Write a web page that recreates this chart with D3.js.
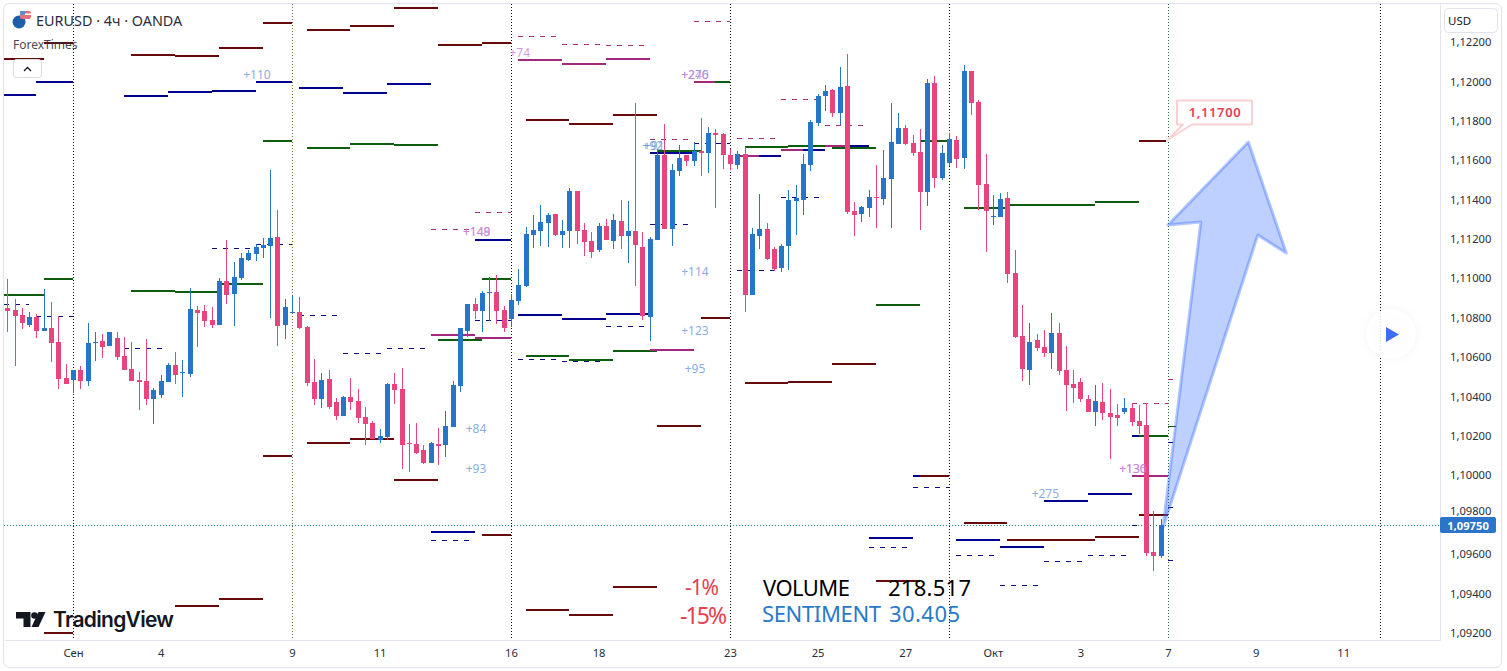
<!DOCTYPE html>
<html>
<head>
  <meta charset="utf-8">
  <title>EURUSD 4h</title>
  <script src="https://d3js.org/d3.v7.min.js"></script>
  <style>
    body { margin: 0; background: #fff; }
    svg { display: block; font-family: "Noto Sans", sans-serif; }
  </style>
</head>
<body>
  <div id="chart"></div>
  <script>
    // prices are kept in points: 1.10844 -> 110844
    const opens = [
      110844,110834,110809,110758,110799,110728,110743,110672,110490,110480,
      110530,110475,110667,110677,110652,110692,110602,110536,110480,110475,
      110383,110403,110470,110556,110515,110510,110834,110829,110783,110758,
      110982,110916,110997,111088,111119,111149,111159,111205,110758,110819,
      110824,110748,110470,110383,110485,110368,110297,110393,110373,110291,
      110261,110175,110190,110459,110434,110159,110154,110124,110058,110154,
      110149,110241,110449,110728,110865,110829,110921,110926,110834,110789,
      110880,110956,111215,111236,111276,111322,111215,111236,111439,111241,
      111185,111139,111261,111185,111286,111210,111236,111154,110799,111190,
      111622,111246,111540,111622,111591,111642,111632,111733,111728,111622,
      111571,111627,110911,111210,111246,111144,111048,111159,111388,111393,
      111571,111783,111921,111951,111834,111971,111337,111322,111352,111408,
      111398,111499,111677,111758,111682,111637,111434,111987,111505,111581,
      111697,111606,112048,111890,111474,111307,111307,111403,111022,110702,
      110530,110682,110647,110617,110718,110530,110459,110470,110383,110317,
      110368,110312,110302,110317,110337,110271,110251,109606,109586
    ];
    const highs = [
      110992,110890,110844,110824,110814,110941,110875,110804,110561,110530,
      110551,110768,110723,110713,110723,110723,110697,110672,110520,110687,
      110439,110505,110566,110622,110581,110946,110855,110860,110849,110997,
      111190,111078,111124,111139,111169,111200,111545,111342,110890,110911,
      110900,110753,110586,110515,110530,110388,110398,110490,110434,110342,
      110271,110230,110464,110515,110541,110256,110261,110149,110164,110235,
      110322,110475,110743,110865,110895,110931,111002,111012,110855,110916,
      111043,111256,111317,111368,111327,111322,111291,111454,111439,111276,
      111231,111276,111296,111322,111393,111388,111885,111231,111205,111652,
      111778,111576,111672,111622,111687,111809,111763,111753,111733,111652,
      111642,111662,111251,111423,111276,111154,111169,111444,111469,111627,
      111799,111931,111977,111956,112068,112134,111383,111363,111444,111571,
      111647,111885,111834,111773,111723,111753,112007,112022,111672,111733,
      111718,112078,112048,111900,111627,111418,111428,111434,111139,110860,
      110768,110713,110733,110819,110768,110652,110530,110490,110403,110454,
      110464,110434,110358,110388,110363,110353,110363,109814,109774
    ];
    const lows = [
      110723,110551,110738,110748,110692,110728,110571,110434,110459,110413,
      110434,110449,110576,110591,110652,110581,110530,110475,110327,110353,
      110256,110388,110470,110459,110393,110495,110647,110748,110743,110758,
      110865,110753,110987,111083,111083,111098,110794,110652,110687,110819,
      110738,110449,110353,110337,110332,110276,110297,110327,110261,110149,
      110180,110159,110175,110358,110028,110012,110104,110053,110058,110048,
      110088,110241,110418,110697,110789,110723,110778,110763,110723,110748,
      110860,110951,111149,111159,111154,111210,111149,111149,111169,111109,
      111098,111129,111190,111144,111144,111073,110956,110783,110677,111190,
      111246,111159,111515,111566,111566,111515,111530,111352,111550,111545,
      111550,110824,110911,111144,111088,111032,111027,111037,111215,111317,
      111540,111768,111845,111814,111773,111322,111210,111281,111307,111251,
      111368,111251,111677,111672,111616,111241,111363,111454,111494,111566,
      111555,111550,111824,111342,111129,111266,111307,110972,110692,110475,
      110454,110627,110596,110536,110505,110322,110363,110368,110317,110246,
      110276,110078,110246,110307,110246,110205,109586,109510,109576
    ];
    const closes = [
      110829,110804,110768,110799,110728,110743,110667,110485,110459,110530,
      110475,110667,110672,110647,110723,110596,110530,110475,110470,110383,
      110429,110475,110556,110505,110520,110839,110819,110778,110758,110982,
      110911,111002,111098,111124,111154,111164,111200,110753,110849,110824,
      110743,110464,110383,110480,110342,110297,110393,110368,110286,110256,
      110180,110195,110459,110429,110149,110154,110109,110058,110159,110144,
      110246,110454,110743,110865,110829,110921,110926,110829,110743,110885,
      110961,111220,111241,111281,111317,111215,111236,111439,111236,111180,
      111129,111261,111190,111291,111210,111236,111164,110804,111195,111622,
      111246,111545,111606,111591,111642,111632,111733,111723,111622,111576,
      111627,110911,111220,111246,111093,111043,111159,111393,111403,111576,
      111789,111921,111946,111834,111966,111332,111317,111357,111408,111403,
      111505,111687,111758,111677,111632,111434,111987,111505,111632,111702,
      111601,112048,111885,111469,111337,111312,111398,111017,110697,110536,
      110672,110642,110617,110718,110525,110454,110439,110383,110317,110373,
      110312,110291,110286,110337,110266,110246,109601,109586,109743
    ];

    // horizontal levels: [from bar, to bar, price]
    const redLevels = [
      [-0.5,5,112109],[5,9,112192],[17,23,112129],[23,29,112124],[29,35,112164],[35,39,112291],
      [41,47,112256],[47,53,112276],[53,59,112367],[59,65,112180],[65,69,112190],[71,77,111799],
      [77,83,111778],[83,89,111824],[5,9,109195],[23,29,109332],[29,35,109367],[35,39,110093],
      [41,47,110159],[47,53,110180],[53,59,109972],[65,69,109692],[71,77,109312],[77,83,109286],
      [83,89,109428],[89,95,110246],[95,99,110794],[101,107,110464],[107,113,110470],[113,119,110561],
      [119,125,109459],[125,129,109992],[131,137,109753],[137,149,109667],[149,155,109682],
      [155,159,109794],[155,158.7,111692]
    ];
    const navyLevels = [
      [-0.5,4,111926],[4,9,111992],[16,22,111921],[22,28,111941],[28,34,111946],[34,39,111992],
      [40,46,111961],[46,52,111936],[52,58,111982],[64,69,111190],[70,76,110809],[76,82,110789],
      [82,88,110814],[88,94,111632],[58,64,109708],[103,106,111616],[109,112,111647],[115,118,111667],
      [118,124,109677],[124,125,109992],[130,136,109667],[136,142,109631],[142,148,109865],
      [148,154,109901],[154,155,110195]
    ];
    const greenLevels = [
      [-0.5,5,110911],[5,9,110992],[17,23,110931],[23,29,110926],[29,35,110966],[35,39,111692],
      [41,47,111657],[47,53,111677],[53,59,111672],[59,65,110682],[65,69,110992],[71,77,110602],
      [77,83,110581],[83,89,110627],[89,95,111642],[95,99,111992],[101,107,111662],[107,113,111667],
      [113,119,111657],[119,125,110860],[125,129,111692],[131,137,111352],[137,149,111368],
      [149,155,111383],[155,159,110195]
    ];
    const magentaLevels = [
      [58,64,110708],[64,69,110692],[70,76,112103],[76,82,112083],[82,88,112109],[88,94,110632],
      [94,97,111992],[100,103,111616],[106,109,111647],[112,115,111667],[154,159,109992]
    ];
    const navyDashed = [
      [-0.5,3,110865],[4,9,110804],[28,33.5,111149],[34,39,111167],[40,45.5,110811],[46,51.5,110617],
      [16,21.5,110642],[52,57.5,110642],[58,63.5,109667],[64,69,110783],[70,75.5,110586],[76,81.5,110576],
      [82,87.5,110751],[88,93.5,111271],[94,99,111682],[100,105.5,111037],[106,111.5,111408],
      [124,129,109936],[118,123.5,109631],[130,135.5,109591],[136,141.5,109439],[142,147.5,109562],
      [148,153.5,109591],[154,155,109743],[159,160,109565],[159,160.1,110164],[159,160,109835]
    ];
    const magentaDashed = [
      [58,63.5,111246],[64,69,111332],[70,75.5,112225],[76,81.5,112185],[82,87.5,112180],[88,93.5,111702],
      [94,99,112301],[100,105.5,111707],[106,111.5,111905],[112,117.5,111773],[154,159,110363],[159,160,110484]
    ];
    const greenShort = [[159,160.1,110246]];

    // value labels: [text, bar, price]
    const blueLabels = [
      ["+110",34.2,112027],["+276",94.2,112027],["+91",88.6,111667],["+92",88.4,111667],["+114",94.2,111027],
      ["+123",94.2,110728],["+95",94.2,110536],["+84",64.2,110230],["+93",64.2,110028],["+275",142.2,109901]
    ];
    const purpleLabels = [
      ["+74",70.2,112139],["+149",64.3,111231],["+148",64.3,111231],["+240",94.2,112027],
      ["+136",154.2,110028],["+130",154.2,110028]
    ];

    const priceTicks = d3.range(109200, 112201, 200);
    const timeTickBars = [9, 21, 39, 51, 69, 81, 99, 111, 123, 135, 147, 159, 171, 183];
    const timeTickLabels = ["Сен", "4", "9", "11", "16", "18", "23", "25", "27", "Окт", "3", "7", "9", "11"];
    const sessionBars = [9, 39, 69, 99, 129, 159, 188.1];
    const sessionColors = ["#111", "#8a6a2f", "#111", "#111", "#111", "#1c6b3c", "#111"];

    const lastPrice = 109743; // line position
    const lastTag = "1,09750";
    const targetPrice = 111700;
    // arrow drawing, [bar, price]
    const arrowPoints = [[170,111687],[175.2,111124],[171.3,111215],[158.3,109728],[163.5,111281],[159,111266]];

    const formatPrice = d => (d / 100000).toFixed(5).replace(".", ",");

    function drawChart() {
      const W = 1507, H = 671;
      const left = 4, right = 1440, top = 4, bottom = 640;

      const svg = d3.select("#chart").append("svg").attr("width", W).attr("height", H);

      const x = d3.scaleLinear().domain([-0.452, 196.26]).range([left, right]);
      const y = d3.scaleLinear().domain([112388, 109159]).range([top, bottom]);
      const sx = d => Math.round(x(d));
      const sy = d => Math.round(y(d));

      svg.append("clipPath").attr("id", "plot").append("rect")
        .attr("x", left).attr("y", top).attr("width", right - left).attr("height", bottom - top);

      const g = svg.append("g").attr("clip-path", "url(#plot)");

      // session separators
      g.selectAll(".session").data(sessionBars).enter().append("line")
        .attr("class", "session")
        .attr("x1", d => sx(d) + 0.5).attr("x2", d => sx(d) + 0.5)
        .attr("y1", top).attr("y2", bottom)
        .attr("stroke", (d, i) => sessionColors[i])
        .attr("stroke-width", 1)
        .attr("stroke-dasharray", "1 2");

      // last price line
      g.append("line")
        .attr("x1", left).attr("x2", right)
        .attr("y1", sy(lastPrice) + 0.5).attr("y2", sy(lastPrice) + 0.5)
        .attr("stroke", "#1f7f8f")
        .attr("stroke-dasharray", "1 2");

      function levels(data, color, width, dash) {
        const off = width === 1 ? 0.5 : 0;
        g.append("g").selectAll("line").data(data).enter().append("line")
          .attr("x1", d => sx(d[0])).attr("x2", d => sx(d[1]))
          .attr("y1", d => sy(d[2]) + off).attr("y2", d => sy(d[2]) + off)
          .attr("stroke", color)
          .attr("stroke-width", width)
          .attr("stroke-dasharray", dash);
      }
      levels(navyDashed, "#0b0b86", 1, "5 6");
      levels(magentaDashed, "#a3307f", 1, "5 6");
      levels(greenShort, "#0e5c0e", 1, null);
      levels(redLevels, "#670a0c", 2, null);
      levels(navyLevels, "#00008f", 2, null);
      levels(greenLevels, "#0e5c0e", 2, null);
      levels(magentaLevels, "#a5287f", 2, null);

      // candles
      const bars = d3.range(opens.length);
      const color = i => closes[i] >= opens[i] ? "#2675c9" : "#e8457f";
      const candles = g.append("g").selectAll("g").data(bars).enter().append("g");
      candles.append("line")
        .attr("x1", i => sx(i) + 0.5).attr("x2", i => sx(i) + 0.5)
        .attr("y1", i => sy(highs[i])).attr("y2", i => sy(lows[i]))
        .attr("stroke", color);
      candles.append("rect")
        .attr("x", i => sx(i) - 2)
        .attr("width", 5)
        .attr("y", i => sy(Math.max(opens[i], closes[i])))
        .attr("height", i => Math.max(1, sy(Math.min(opens[i], closes[i])) - sy(Math.max(opens[i], closes[i]))))
        .attr("fill", color);

      // value labels
      function valueLabels(data, fill) {
        g.append("g").selectAll("text").data(data).enter().append("text")
          .attr("x", d => x(d[1])).attr("y", d => y(d[2]) + 4)
          .attr("text-anchor", "middle")
          .attr("font-size", 12)
          .attr("fill", fill)
          .attr("fill-opacity", 0.8)
          .text(d => d[0]);
      }
      valueLabels(blueLabels, "#6a94dc");
      valueLabels(purpleLabels, "#c77fdc");

      // arrow
      g.append("path")
        .attr("d", d3.line().x(d => x(d[0])).y(d => y(d[1]))(arrowPoints) + "Z")
        .attr("fill", "#2962ff").attr("fill-opacity", 0.3)
        .attr("stroke", "#2962ff").attr("stroke-opacity", 0.35)
        .attr("stroke-width", 3).attr("stroke-linejoin", "round");

      // target callout
      const tx = x(159), ty = y(targetPrice);
      g.append("path")
        .attr("d", `M${tx},${ty} L${tx + 15},${ty - 15} H${tx + 9} V${ty - 39} H${tx + 84} V${ty - 15} H${tx + 24} Z`)
        .attr("fill", "#fff").attr("stroke", "#fbd0d4").attr("stroke-width", 2).attr("stroke-linejoin", "round");
      g.append("text")
        .attr("x", tx + 47).attr("y", ty - 23)
        .attr("text-anchor", "middle")
        .attr("font-size", 13).attr("font-weight", 600).attr("letter-spacing", 0.6).attr("fill", "#e4404f")
        .text(formatPrice(targetPrice));

      // axes
      const yAxis = d3.axisRight(y).tickValues(priceTicks).tickFormat(formatPrice).tickSize(0).tickPadding(10);
      const ya = svg.append("g").attr("transform", `translate(${right},0)`).call(yAxis);
      ya.select(".domain").attr("stroke", "#e0e3eb");
      ya.selectAll("text").attr("font-size", 11.2).attr("fill", "#2a2e39").attr("font-family", '"Noto Sans", sans-serif')
        .attr("y", d => d === 109800 ? -3 : 1);

      const xAxis = d3.axisBottom(x).tickValues(timeTickBars)
        .tickFormat((d, i) => timeTickLabels[i]).tickSize(0).tickPadding(9);
      const xa = svg.append("g").attr("transform", `translate(0,${bottom})`).call(xAxis);
      xa.select(".domain").attr("stroke", "#e0e3eb");
      xa.selectAll("text").attr("font-size", 11.2).attr("fill", "#2a2e39").attr("font-family", '"Noto Sans", sans-serif');

      // last price tag
      svg.append("rect").attr("x", right).attr("y", sy(lastPrice) - 8).attr("width", 56).attr("height", 16)
        .attr("rx", 2).attr("fill", "#2a74c9");
      svg.append("text").attr("x", right + 28).attr("y", sy(lastPrice) + 4.5)
        .attr("text-anchor", "middle").attr("font-size", 11.2).attr("font-weight", 700).attr("fill", "#fff")
        .text(lastTag);

      // USD button
      svg.append("rect").attr("x", 1444.5).attr("y", 8.5).attr("width", 53).attr("height", 24).attr("rx", 4)
        .attr("fill", "#fff").attr("stroke", "#e0e3eb");
      svg.append("text").attr("x", 1448).attr("y", 25).attr("font-size", 11.5).attr("fill", "#131722").text("USD");

      // frame
      svg.append("rect").attr("x", 3.5).attr("y", 3.5).attr("width", 1498).attr("height", 664).attr("rx", 6)
        .attr("fill", "none").attr("stroke", "#e0e3eb");

      // header
      svg.append("circle").attr("cx", 19).attr("cy", 22).attr("r", 6.5).attr("fill", "#1c5fa8");
      svg.append("rect").attr("x", 20).attr("y", 11).attr("width", 11).attr("height", 8).attr("rx", 2).attr("fill", "#e8707a");
      svg.append("rect").attr("x", 20).attr("y", 13.5).attr("width", 11).attr("height", 1.5).attr("fill", "#fff");
      svg.append("rect").attr("x", 20).attr("y", 11).attr("width", 5).attr("height", 4).attr("fill", "#5b8fd0");
      svg.append("text").attr("x", 36).attr("y", 26).attr("font-size", 14.4).attr("fill", "#2a2e39").text("EURUSD · 4ч · OANDA");
      svg.append("text").attr("x", 13).attr("y", 49).attr("font-size", 12).attr("fill", "#2a2e39").attr("fill-opacity", 0.9).text("ForexTimes");

      svg.append("rect").attr("x", 13.5).attr("y", 59.5).attr("width", 28).attr("height", 18).attr("rx", 3)
        .attr("fill", "#fff").attr("stroke", "#d8dbe3");
      svg.append("path").attr("d", "M24,71 L27.5,67.5 L31,71").attr("fill", "none").attr("stroke", "#131722").attr("stroke-width", 1.3);

      // TradingView logo
      svg.append("path").attr("d", "M16,612 H30.5 V627 H23.5 V618.5 H16 Z").attr("fill", "#131722");
      svg.append("circle").attr("cx", 34.5).attr("cy", 615.5).attr("r", 3.3).attr("fill", "#131722");
      svg.append("path").attr("d", "M38.5,612 H45.5 L38.5,627 H31.5 Z").attr("fill", "#131722");
      svg.append("text").attr("x", 53).attr("y", 627).attr("font-size", 21).attr("font-weight", 600)
        .attr("font-family", "Inter, sans-serif").attr("fill", "#131722").attr("textLength", 121).text("TradingView");

      // overlay texts
      function note(txt, tx0, ty0, size, fill, len) {
        svg.append("text").attr("x", tx0).attr("y", ty0).attr("font-size", size).attr("fill", fill)
          .attr("textLength", len).text(txt);
      }
      note("-1%", 685, 595, 21, "#e5404f", 34);
      note("-15%", 680, 624, 23, "#e5404f", 47);
      note("VOLUME", 763, 596, 22, "#000", 87);
      note("218.517", 888, 596, 22, "#000", 83);
      note("SENTIMENT", 762, 622, 22, "#2a7ac8", 119);
      note("30.405", 889, 622, 22, "#2a7ac8", 71);

      // play button
      svg.append("circle").attr("cx", 1391).attr("cy", 334).attr("r", 25).attr("fill", "#fff").attr("fill-opacity", 0.9)
        .style("filter", "drop-shadow(0 0 4px rgba(0,0,0,0.05))");
      svg.append("path").attr("d", "M1386,327 L1399,334.5 L1386,342 Z").attr("fill", "#3b6ff2");
    }

    drawChart();
  </script>
</body>
</html>
